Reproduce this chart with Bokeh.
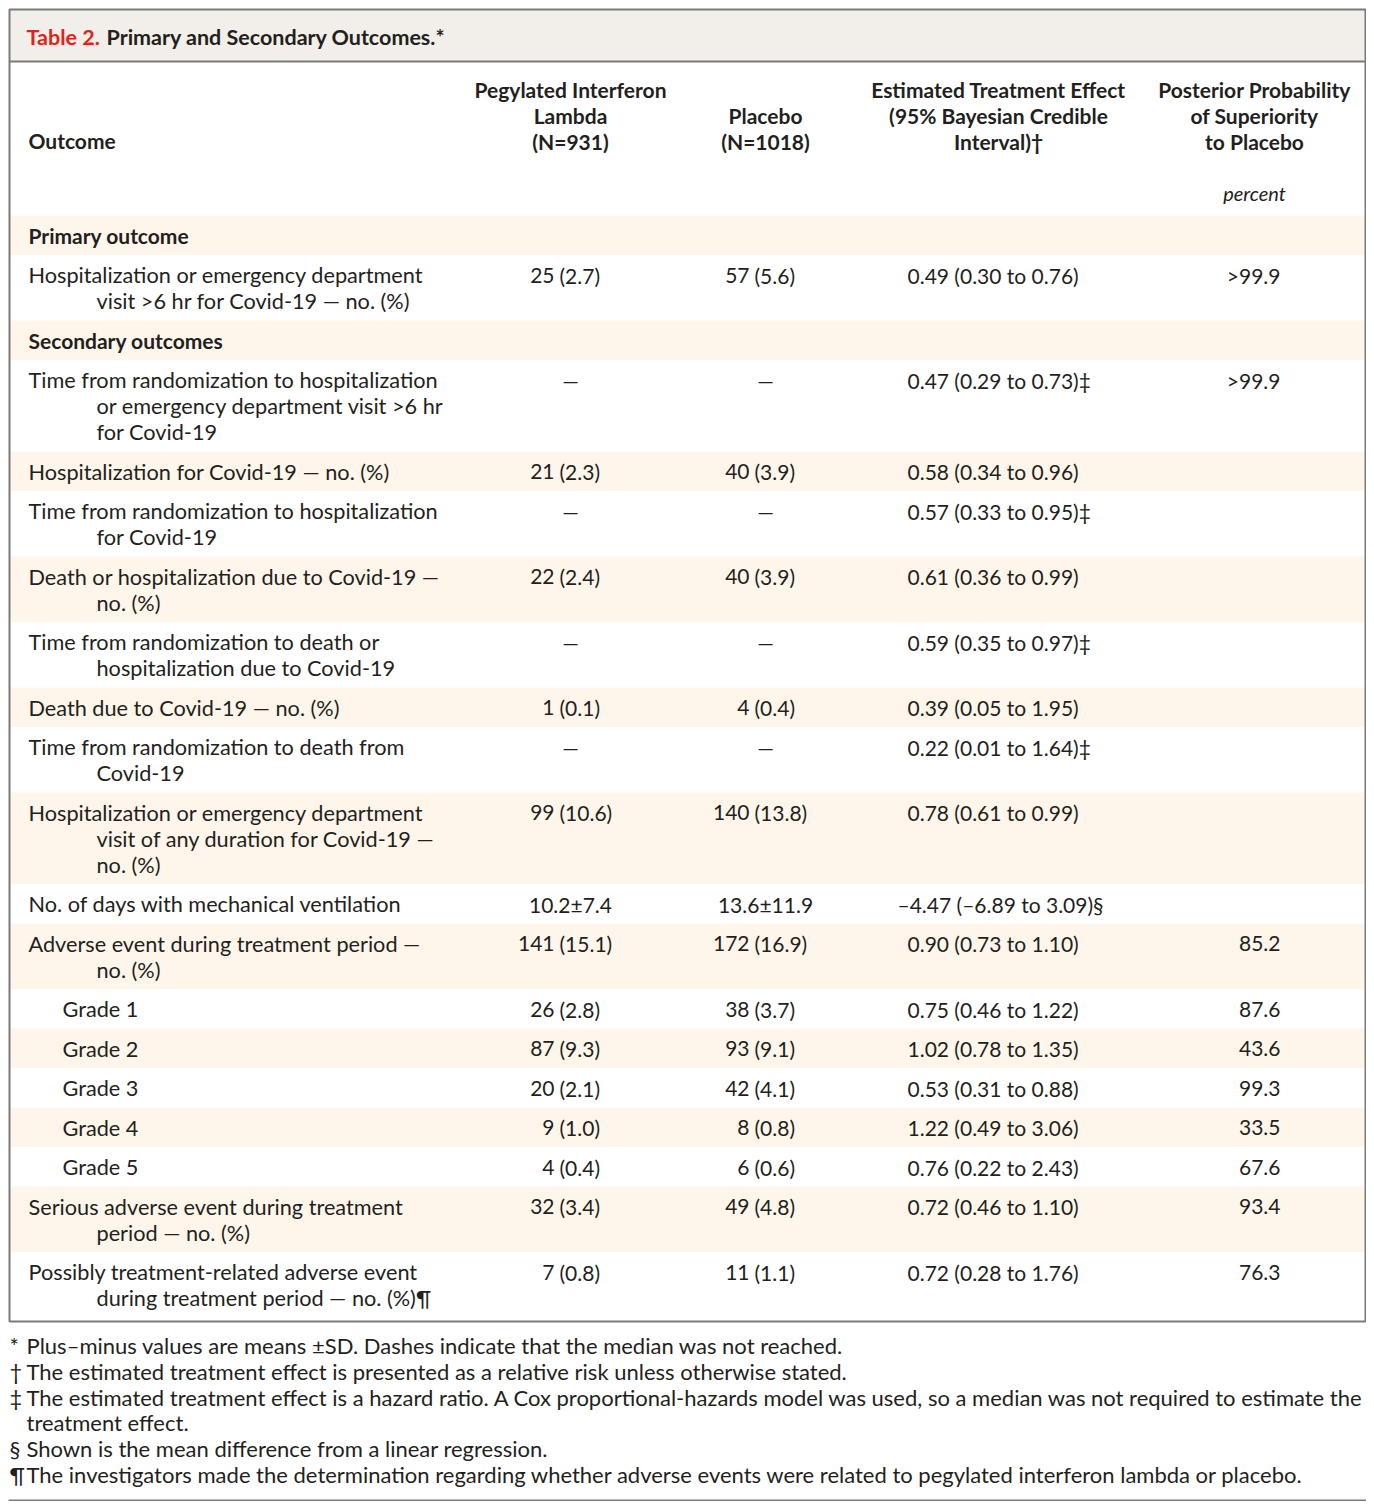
from bokeh.plotting import figure
from bokeh.models import Range1d
from bokeh.core.properties import value
from bokeh.embed import file_html
from bokeh.resources import INLINE

# ---------------- data ----------------
title_label = "Table 2."
title_text = "Primary and Secondary Outcomes.*"

col_headers = [
    "Pegylated Interferon\nLambda\n(N=931)",
    "Placebo\n(N=1018)",
    "Estimated Treatment Effect\n(95% Bayesian Credible\nInterval)†",
    "Posterior Probability\nof Superiority\nto Placebo",
]
outcome_header = "Outcome"
unit_label = "percent"

outcomes = [
    "Primary outcome",
    "Hospitalization or emergency department\nvisit >6 hr for Covid-19 — no. (%)",
    "Secondary outcomes",
    "Time from randomization to hospitalization\nor emergency department visit >6 hr\nfor Covid-19",
    "Hospitalization for Covid-19 — no. (%)",
    "Time from randomization to hospitalization\nfor Covid-19",
    "Death or hospitalization due to Covid-19 —\nno. (%)",
    "Time from randomization to death or\nhospitalization due to Covid-19",
    "Death due to Covid-19 — no. (%)",
    "Time from randomization to death from\nCovid-19",
    "Hospitalization or emergency department\nvisit of any duration for Covid-19 —\nno. (%)",
    "No. of days with mechanical ventilation",
    "Adverse event during treatment period —\nno. (%)",
    "Grade 1",
    "Grade 2",
    "Grade 3",
    "Grade 4",
    "Grade 5",
    "Serious adverse event during treatment\nperiod — no. (%)",
    "Possibly treatment-related adverse event\nduring treatment period — no. (%)¶",
]
row_kind = ["section", "item", "section", "item", "item", "item", "item", "item",
            "item", "item", "item", "item", "item", "sub", "sub", "sub", "sub",
            "sub", "item", "item"]

lambda_vals = ["", "25 (2.7)", "", "—", "21 (2.3)", "—", "22 (2.4)", "—",
               "1 (0.1)", "—", "99 (10.6)", "10.2±7.4", "141 (15.1)", "26 (2.8)",
               "87 (9.3)", "20 (2.1)", "9 (1.0)", "4 (0.4)", "32 (3.4)", "7 (0.8)"]
placebo_vals = ["", "57 (5.6)", "", "—", "40 (3.9)", "—", "40 (3.9)", "—",
                "4 (0.4)", "—", "140 (13.8)", "13.6±11.9", "172 (16.9)", "38 (3.7)",
                "93 (9.1)", "42 (4.1)", "8 (0.8)", "6 (0.6)", "49 (4.8)", "11 (1.1)"]
effect_vals = ["", "0.49 (0.30 to 0.76)", "", "0.47 (0.29 to 0.73)‡",
               "0.58 (0.34 to 0.96)", "0.57 (0.33 to 0.95)‡", "0.61 (0.36 to 0.99)",
               "0.59 (0.35 to 0.97)‡", "0.39 (0.05 to 1.95)", "0.22 (0.01 to 1.64)‡",
               "0.78 (0.61 to 0.99)", "–4.47 (–6.89 to 3.09)§", "0.90 (0.73 to 1.10)",
               "0.75 (0.46 to 1.22)", "1.02 (0.78 to 1.35)", "0.53 (0.31 to 0.88)",
               "1.22 (0.49 to 3.06)", "0.76 (0.22 to 2.43)", "0.72 (0.46 to 1.10)",
               "0.72 (0.28 to 1.76)"]
posterior_vals = ["", ">99.9", "", ">99.9", "", "", "", "", "", "", "", "",
                  "85.2", "87.6", "43.6", "99.3", "33.5", "67.6", "93.4", "76.3"]

footnote_marks = ["*", "†", "‡", "", "§", "¶"]
footnote_texts = [
    "Plus–minus values are means ±SD. Dashes indicate that the median was not reached.",
    "The estimated treatment effect is presented as a relative risk unless otherwise stated.",
    "The estimated treatment effect is a hazard ratio. A Cox proportional-hazards model was used, so a median was not required to estimate the",
    "treatment effect.",
    "Shown is the mean difference from a linear regression.",
    "The investigators made the determination regarding whether adverse events were related to pegylated interferon lambda or placebo.",
]

# ---------------- styling / layout ----------------
INK = "#231F20"
RED = "#E2231A"
SHADE = "#FEF6EA"
TITLE_BG = "#F2EEE9"
FRAME = "#7A7A7A"
BODY_FONT = value("Lato")
FS = value("21px")
LABEL_FS = value("21.7px")
HEAD_FS = value("21px")
FOOT_FS = value("22px")

p = figure(width=1366, height=1501, x_range=Range1d(0, 1366), y_range=Range1d(1501, 0),
           output_backend="svg", toolbar_location=None,
           x_axis_location=None, y_axis_location=None, min_border=0)
p.grid.visible = False
p.outline_line_color = None
p.background_fill_color = "white"
p.border_fill_color = "white"

L, R = 9, 1365
TOP, TITLE_BOT, HEAD_BOT = 9, 61, 215
LINE_H = 26.0
PAD = 13.5

# row geometry
tops, bots = [], []
y = HEAD_BOT
for i, lab in enumerate(outcomes):
    n = lab.count("\n") + 1
    h = PAD + LINE_H * n
    tops.append(y)
    y += h
    bots.append(y)
TABLE_BOT = y + 4
bots[-1] = TABLE_BOT

# shaded bands
sh_idx = [i for i in range(len(outcomes)) if i % 2 == 0]
p.quad(left=[L] * len(sh_idx), right=[R] * len(sh_idx),
       top=[tops[i] for i in sh_idx], bottom=[bots[i] for i in sh_idx],
       fill_color=SHADE, line_color=None)

# title band
p.quad(left=[L], right=[R], top=[TOP], bottom=[TITLE_BOT], fill_color=TITLE_BG, line_color=None)
p.segment(x0=[L], y0=[TITLE_BOT], x1=[R], y1=[TITLE_BOT], line_color=FRAME, line_width=2)
# frame
p.quad(left=[L], right=[R], top=[TOP], bottom=[TABLE_BOT], fill_color=None,
       line_color=FRAME, line_width=2)

# title
p.text(x=[26], y=[36], text=[title_label], text_color=RED, text_font=BODY_FONT,
       text_font_size=value("21.5px"), text_font_style="bold", text_baseline="middle")
p.text(x=[106], y=[36], text=[title_text], text_color=INK, text_font=BODY_FONT,
       text_font_size=value("21.5px"), text_font_style="bold", text_baseline="middle")

# column headers
head_x = [570, 765, 998, 1254]
hx, hy, ht = [], [], []
for cx, h in zip(head_x, col_headers):
    lines = h.split("\n")
    start = 141 - LINE_H * (len(lines) - 1)
    for k, ln in enumerate(lines):
        hx.append(cx); hy.append(start + LINE_H * k); ht.append(ln)
p.text(x=hx, y=hy, text=ht, text_color=INK, text_font=BODY_FONT, text_font_size=HEAD_FS,
       text_font_style="bold", text_align="center", text_baseline="middle")
p.text(x=[28], y=[140], text=[outcome_header], text_color=INK, text_font=BODY_FONT,
       text_font_size=FS, text_font_style="bold", text_baseline="middle")
p.text(x=[1254], y=[192], text=[unit_label], text_color=INK, text_font=BODY_FONT,
       text_font_size=value("20px"), text_font_style="italic", text_align="center",
       text_baseline="middle")

# outcome labels
lx, ly, lt, bx, by, bt = [], [], [], [], [], []
for i, lab in enumerate(outcomes):
    lines = lab.split("\n")
    base_x = 62 if row_kind[i] == "sub" else 28
    for k, ln in enumerate(lines):
        xx = base_x if k == 0 else base_x + 68
        yy = tops[i] + 20 + LINE_H * k
        if row_kind[i] == "section":
            bx.append(xx); by.append(yy); bt.append(ln)
        else:
            lx.append(xx); ly.append(yy); lt.append(ln)
p.text(x=lx, y=ly, text=lt, text_color=INK, text_font=BODY_FONT, text_font_size=LABEL_FS,
       text_baseline="middle")
p.text(x=bx, y=by, text=bt, text_color=INK, text_font=BODY_FONT, text_font_size=FS,
       text_font_style="bold", text_baseline="middle")

# numeric columns
def add_count_col(vals, anchor, center):
    rx, ry, rt, px_, py_, pt, cx_, cy_, ct = [], [], [], [], [], [], [], [], []
    for i, v in enumerate(vals):
        if not v:
            continue
        yy = tops[i] + 20
        if " (" in v:
            a, b = v.split(" (", 1)
            rx.append(anchor); ry.append(yy); rt.append(a)
            px_.append(anchor + 5); py_.append(yy); pt.append("(" + b)
        else:
            cx_.append(center); cy_.append(yy); ct.append(v)
    kw = dict(text_color=INK, text_font=BODY_FONT, text_font_size=FS, text_baseline="middle")
    p.text(x=rx, y=ry, text=rt, text_align="right", **kw)
    p.text(x=px_, y=py_, text=pt, text_align="left", **kw)
    p.text(x=cx_, y=cy_, text=ct, text_align="center", **kw)

add_count_col(lambda_vals, 554, 570)
add_count_col(placebo_vals, 749, 765)

ex, ey, et = [], [], []
for i, v in enumerate(effect_vals):
    if v:
        ex.append(897 if v.startswith("–") else 907)
        ey.append(tops[i] + 20); et.append(v)
p.text(x=ex, y=ey, text=et, text_color=INK, text_font=BODY_FONT, text_font_size=FS,
       text_baseline="middle")

qx, qy, qt = [], [], []
for i, v in enumerate(posterior_vals):
    if v:
        qx.append(1280); qy.append(tops[i] + 20); qt.append(v)
p.text(x=qx, y=qy, text=qt, text_color=INK, text_font=BODY_FONT, text_font_size=FS,
       text_align="right", text_baseline="middle")

# footnotes
fy0 = 1345
fmx, fmy, fmt, ftx, fty, ftt = [], [], [], [], [], []
for k, (m, t) in enumerate(zip(footnote_marks, footnote_texts)):
    yy = fy0 + 25.8 * k
    if m:
        fmx.append(9); fmy.append(yy); fmt.append(m)
    ftx.append(26); fty.append(yy); ftt.append(t)
p.text(x=fmx, y=fmy, text=fmt, text_color=INK, text_font=BODY_FONT, text_font_size=FOOT_FS,
       text_baseline="middle")
p.text(x=ftx, y=fty, text=ftt, text_color=INK, text_font=BODY_FONT, text_font_size=FOOT_FS,
       text_baseline="middle")
p.segment(x0=[8], y0=[1500], x1=[1366], y1=[1500], line_color=FRAME, line_width=2)

open("out.html", "w").write(file_html(p, INLINE))
